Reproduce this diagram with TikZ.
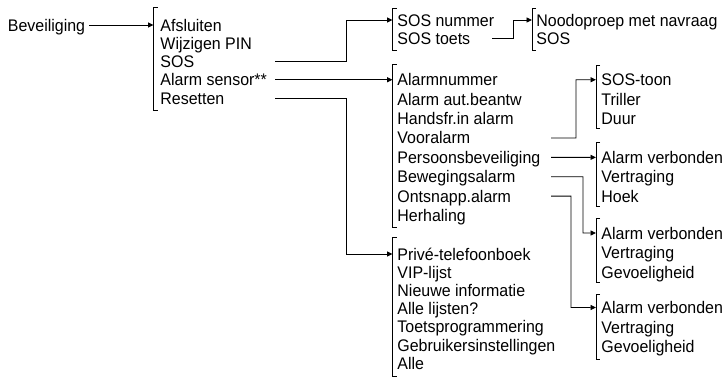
\documentclass[tikz,border=0pt]{standalone}
\usepackage{fontspec}
\setmainfont{Liberation Sans}[FakeStretch=0.95]
\usetikzlibrary{arrows.meta}

\begin{document}
\begin{tikzpicture}[x=1bp,y=-1bp,line width=0.9bp,
    >={Triangle[length=5.5bp,width=5bp]},
    item/.style={anchor=west,inner sep=0pt,text height=12bp,text depth=0pt,
      font=\fontsize{16.8bp}{18bp}\selectfont}]
  \useasboundingbox (0,0) rectangle (727,379);

  \node[item] (bev) at (7.5,25) {Beveiliging};

  % menu lists
  \foreach \txt [count=\i] in {Afsluiten,Wijzigen PIN,SOS,Alarm sensor**,Resetten}
    \node[item] (a\i) at (160,{25+18.25*(\i-1)}) {\txt};
  \foreach \txt [count=\i] in {SOS nummer,SOS toets}
    \node[item] (b\i) at (397,{20+18.25*(\i-1)}) {\txt};
  \foreach \txt [count=\i] in {Noodoproep met navraag,SOS}
    \node[item] (c\i) at (536,{20+18.25*(\i-1)}) {\txt};
  \foreach \txt [count=\i] in {Alarmnummer,Alarm aut.beantw,Handsfr.in alarm,Vooralarm,
      Persoonsbeveiliging,Bewegingsalarm,Ontsnapp.alarm,Herhaling}
    \node[item] (d\i) at (397,{79.75+19.4*(\i-1)}) {\txt};
  \foreach \txt [count=\i] in {SOS-toon,Triller,Duur}
    \node[item] (e\i) at (601,{79.75+19.5*(\i-1)}) {\txt};
  \foreach \txt [count=\i] in {Alarm verbonden,Vertraging,Hoek}
    \node[item] (f\i) at (601,{157.35+19.5*(\i-1)}) {\txt};
  \foreach \txt [count=\i] in {Alarm verbonden,Vertraging,Gevoeligheid}
    \node[item] (g\i) at (601,{233+19.5*(\i-1)}) {\txt};
  \foreach \txt [count=\i] in {Alarm verbonden,Vertraging,Gevoeligheid}
    \node[item] (h\i) at (601,{307.5+19.5*(\i-1)}) {\txt};
  \foreach \txt [count=\i] in {Privé-telefoonboek,VIP-lijst,Nieuwe informatie,Alle lijsten?,
      Toetsprogrammering,Gebruikersinstellingen,Alle}
    \node[item] (p\i) at (397,{254+18.2*(\i-1)}) {\txt};

  % brackets
  \draw (157.5,7) -- (153.5,7) -- (153.5,110) -- (157.5,110);
  \draw (396.5,8) -- (392.5,8) -- (392.5,50) -- (396.5,50);
  \draw (536,8) -- (532,8) -- (532,50) -- (536,50);
  \draw (396.5,64) -- (392.5,64) -- (392.5,227) -- (396.5,227);
  \draw (396.5,237) -- (392.5,237) -- (392.5,376) -- (396.5,376);
  \draw (600,65) -- (596,65) -- (596,128) -- (600,128);
  \draw (600,142) -- (596,142) -- (596,206) -- (600,206);
  \draw (600,218) -- (596,218) -- (596,282) -- (600,282);
  \draw (600,294) -- (596,294) -- (596,359) -- (600,359);

  \coordinate (gA) at (153.5,25);
  \coordinate (gB) at (392.5,20);
  \coordinate (gC) at (532,20);
  \coordinate (gD) at (392.5,79.75);
  \coordinate (gP) at (392.5,254);
  \coordinate (gE) at (596,79.75);
  \coordinate (gF) at (596,157.35);
  \coordinate (gG) at (596,233);
  \coordinate (gH) at (596,307.5);

  \coordinate (aout) at (275,0);
  \coordinate (aelb) at (346,0);
  \coordinate (bout) at (492,0);
  \coordinate (belb) at (513,0);
  \coordinate (dout) at (551,0);

  % connectors
  \draw[->,shorten <=3.5bp] (bev) -- (gA);
  \draw[->] (a3 -| aout) -- (a3 -| aelb) |- (gB);
  \draw[->] (a4 -| aout) -- (gD);
  \draw[->] (a5 -| aout) -- (a5 -| aelb) |- (gP);
  \draw[->] (b2 -| bout) -- (b2 -| belb) |- (gC);
  \draw[->] (d4 -| dout) -- (576,137.95) |- (gE);
  \draw[->] (d5 -| dout) -- (gF);
  \draw[->] (d6 -| dout) -- (583,176.75) |- (gG);
  \draw[->] (d7 -| dout) -- (571,196.15) |- (gH);
\end{tikzpicture}
\end{document}
